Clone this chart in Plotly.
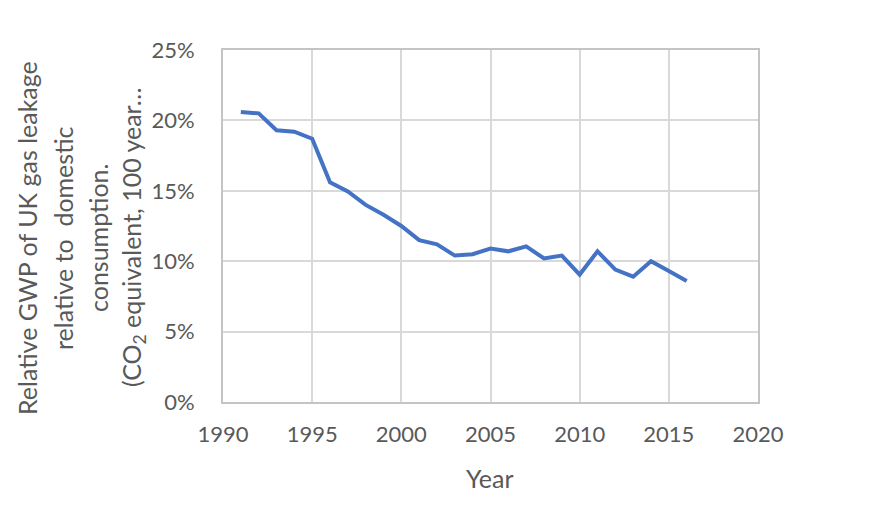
import plotly.graph_objects as go

years = list(range(1991, 2017))
leak_pct = [20.6, 20.5, 19.3, 19.2, 18.7, 15.6, 14.95, 14.0, 13.3, 12.5,
            11.5, 11.2, 10.4, 10.5, 10.9, 10.7, 11.05, 10.2, 10.4, 9.05,
            10.7, 9.4, 8.9, 10.0, 9.3, 8.6]
values = [v / 100 for v in leak_pct]

x_ticks = [1990, 1995, 2000, 2005, 2010, 2015, 2020]
y_ticks = [0, 0.05, 0.10, 0.15, 0.20, 0.25]
y_title_lines = ["Relative GWP of UK gas leakage",
                 "relative to\u00a0 domestic",
                 "consumption.",
                 "(CO<sub>2</sub> equivalent, 100 year…"]
x_title = "Year"

FONT = "Lato"
GRAY = "#595959"
GRID = "#d9d9d9"

# page has an 8px body margin; plot area in page px: x 223-758, y 50-402
OFF = 8
PX0, PX1, PY0, PY1 = 223, 758, 50, 402
W, H = 873, 497
L, T = PX0 - OFF, PY0 - OFF
pw, ph = PX1 - PX0, PY1 - PY0
R, B = W - L - pw, H - T - ph

fig = go.Figure()
fig.add_trace(go.Scatter(x=years, y=values, mode="lines",
                         line=dict(color="#4472c4", width=4), hoverinfo="x+y"))

fig.update_layout(
    width=W, height=H,
    margin=dict(l=L, r=R, t=T, b=B),
    paper_bgcolor="white", plot_bgcolor="white",
    showlegend=False,
    font=dict(family=FONT, color=GRAY, size=22),
    xaxis=dict(range=[1990, 2020], tickvals=x_ticks, showgrid=True,
               gridcolor=GRID, gridwidth=2, zeroline=False,
               showline=True, linecolor="#c4c4c4", linewidth=2, mirror=True,
               ticks="", ticklabelstandoff=12,
               tickfont=dict(family=FONT, size=22, color=GRAY)),
    yaxis=dict(range=[0, 0.25], tickvals=y_ticks, tickformat=".0%",
               showgrid=True, gridcolor=GRID, gridwidth=2, zeroline=False,
               showline=True, linecolor="#c4c4c4", linewidth=2, mirror=True,
               ticks="", ticklabelstandoff=22,
               tickfont=dict(family=FONT, size=22, color=GRAY)),
)

line_x_px = [27, 63, 98, 133]
for txt, xp in zip(y_title_lines, line_x_px):
    fig.add_annotation(text=txt, xref="paper", yref="paper",
                       x=(xp - PX0) / pw, y=(PY1 - 238) / ph,
                       xanchor="center", yanchor="middle", textangle=-90,
                       showarrow=False,
                       font=dict(family=FONT, size=25, color=GRAY))

fig.add_annotation(text=x_title, xref="paper", yref="paper",
                   x=(490 - PX0) / pw, y=(PY1 - 478) / ph,
                   xanchor="center", yanchor="middle", showarrow=False,
                   font=dict(family=FONT, size=25, color=GRAY))

fig.write_html("out.html")
